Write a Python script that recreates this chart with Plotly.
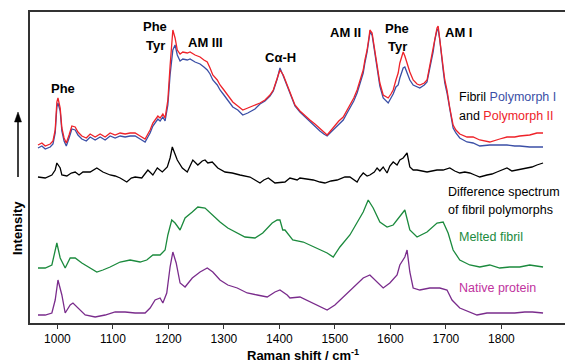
import plotly.graph_objects as go

# ---------------- data ----------------
# Raman shift (cm-1) sampled for the two fibril polymorph spectra
wn_fibril = [965, 972, 978, 987, 992, 996, 999, 1001, 1005, 1008, 1012, 1016, 1021, 1026, 1032, 1037,
             1044, 1052, 1059, 1068, 1077, 1086, 1095, 1104, 1113, 1122, 1131, 1140, 1149, 1158, 1163,
             1167, 1172, 1176, 1181, 1185, 1190, 1194, 1199, 1203, 1207, 1208, 1212, 1216, 1221, 1226,
             1234, 1239, 1248, 1257, 1264, 1270, 1275, 1280, 1288, 1293, 1300, 1306, 1311, 1316, 1325,
             1334, 1343, 1356, 1365, 1374, 1383, 1389, 1396, 1401, 1407, 1414, 1419, 1428, 1437, 1446,
             1455, 1464, 1473, 1480, 1486, 1493, 1500, 1507, 1515, 1522, 1527, 1534, 1540, 1545, 1551,
             1554, 1558, 1562, 1563, 1567, 1569, 1572, 1576, 1581, 1587, 1592, 1596, 1601, 1605, 1610,
             1614, 1617, 1621, 1623, 1626, 1630, 1635, 1641, 1648, 1653, 1661, 1666, 1671, 1677, 1680,
             1684, 1686, 1689, 1695, 1698, 1702, 1707, 1713, 1718, 1725, 1738, 1749, 1761, 1779, 1797,
             1810, 1824, 1833, 1851, 1864, 1875]

polymorph_II = [178, 180, 177, 179, 182, 193, 221, 225, 215, 195, 185, 180, 188, 197, 196, 191,
                187, 185, 189, 186, 189, 186, 190, 188, 190, 189, 190, 190, 187, 184, 189,
                193, 200, 203, 207, 205, 209, 205, 223, 257, 285, 293, 285, 273, 269, 271,
                270, 271, 268, 266, 263, 261, 255, 248, 243, 238, 233, 228, 225, 221, 217,
                213, 215, 218, 220, 223, 228, 233, 245, 253, 248, 238, 230, 218, 212, 207,
                203, 199, 195, 191, 188, 193, 198, 202, 206, 213, 218, 225, 233, 243, 253,
                263, 273, 288, 293, 290, 283, 271, 260, 240, 228, 226, 225, 229, 233, 243,
                250, 260, 267, 271, 267, 260, 251, 243, 239, 238, 240, 243, 257, 273, 285,
                295, 297, 285, 256, 243, 233, 215, 198, 193, 189, 186, 186, 183, 181, 184,
                186, 186, 187, 188, 190, 190]

polymorph_I = [175, 177, 174, 176, 179, 190, 216, 220, 212, 192, 182, 177, 185, 194, 193, 188,
               184, 182, 186, 183, 186, 183, 187, 185, 187, 186, 187, 187, 184, 181, 186,
               190, 197, 200, 204, 202, 206, 202, 218, 248, 268, 273, 278, 268, 262, 264,
               263, 264, 261, 259, 256, 253, 249, 243, 238, 233, 228, 223, 220, 216, 213,
               208, 210, 214, 219, 222, 227, 232, 244, 255, 247, 237, 229, 217, 211, 206,
               202, 197, 192, 189, 187, 191, 195, 199, 203, 210, 215, 222, 230, 240, 250,
               260, 271, 286, 291, 288, 281, 268, 257, 237, 225, 222, 220, 225, 229, 236,
               238, 245, 252, 255, 256, 251, 243, 238, 236, 235, 238, 241, 255, 271, 283,
               293, 294, 283, 253, 240, 230, 212, 195, 190, 185, 181, 180, 177, 178, 178,
               178, 177, 177, 176, 176, 176]

wn_diff = [965, 978, 990, 996, 999, 1005, 1008, 1017, 1025, 1032, 1039, 1046, 1059, 1071, 1082, 1095,
           1104, 1113, 1125, 1133, 1140, 1152, 1163, 1172, 1180, 1189, 1198, 1203, 1207, 1210, 1216,
           1225, 1234, 1239, 1244, 1253, 1261, 1266, 1271, 1279, 1289, 1302, 1315, 1329, 1347, 1356,
           1365, 1372, 1380, 1392, 1410, 1419, 1432, 1437, 1450, 1461, 1473, 1482, 1493, 1504, 1518,
           1527, 1540, 1545, 1551, 1558, 1563, 1571, 1576, 1581, 1587, 1594, 1599, 1605, 1612, 1617,
           1623, 1630, 1635, 1641, 1648, 1657, 1666, 1675, 1684, 1695, 1707, 1716, 1725, 1734, 1743,
           1752, 1761, 1774, 1783, 1792, 1801, 1810, 1819, 1828, 1837, 1846, 1855, 1864, 1875]
difference = [146, 145, 148, 153, 160, 155, 148, 147, 150, 151, 148, 151, 151, 155, 151, 148,
              147, 145, 141, 145, 146, 145, 153, 148, 155, 151, 156, 165, 176, 171, 163,
              155, 151, 157, 163, 158, 162, 163, 160, 161, 155, 151, 150, 148, 146, 143,
              140, 143, 145, 140, 141, 145, 143, 145, 144, 143, 141, 140, 142, 143, 146,
              146, 141, 146, 150, 147, 148, 151, 155, 152, 156, 150, 157, 161, 158, 163,
              165, 170, 156, 153, 153, 152, 151, 152, 153, 153, 155, 152, 150, 151, 150,
              148, 146, 148, 149, 151, 153, 155, 152, 153, 154, 155, 156, 158, 160]

wn_melted = [965, 978, 990, 996, 999, 1005, 1014, 1023, 1032, 1044, 1059, 1071, 1082, 1095, 1113, 1131,
             1149, 1161, 1172, 1185, 1194, 1199, 1206, 1212, 1221, 1230, 1243, 1253, 1266, 1279, 1293,
             1307, 1324, 1338, 1356, 1370, 1387, 1396, 1401, 1406, 1410, 1424, 1443, 1464, 1486, 1497,
             1509, 1527, 1540, 1551, 1560, 1569, 1581, 1594, 1605, 1617, 1626, 1635, 1648, 1666, 1684,
             1695, 1704, 1713, 1725, 1743, 1761, 1779, 1797, 1815, 1833, 1851, 1875]
melted_fibril = [55, 55, 58, 73, 80, 65, 55, 65, 65, 60, 55, 51, 53, 56, 61, 63,
                 61, 63, 68, 68, 73, 88, 103, 100, 93, 105, 111, 116, 115, 108, 101,
                 95, 90, 86, 85, 90, 100, 103, 103, 93, 93, 83, 81, 76, 70, 66,
                 76, 88, 100, 111, 123, 115, 101, 96, 98, 106, 113, 93, 86, 91, 100,
                 101, 90, 73, 63, 58, 56, 58, 55, 56, 56, 58, 56]

wn_native = [965, 978, 990, 996, 1001, 1008, 1014, 1023, 1028, 1037, 1050, 1068, 1086, 1104, 1122, 1140,
             1158, 1167, 1176, 1185, 1190, 1197, 1203, 1208, 1214, 1221, 1230, 1243, 1257, 1270, 1280,
             1293, 1307, 1324, 1342, 1360, 1378, 1392, 1401, 1414, 1419, 1437, 1455, 1473, 1486, 1500,
             1515, 1533, 1551, 1563, 1576, 1587, 1599, 1612, 1617, 1626, 1630, 1635, 1641, 1653, 1671,
             1689, 1702, 1711, 1725, 1743, 1756, 1774, 1797, 1824, 1842, 1856, 1875]
native_protein = [8, 8, 10, 23, 43, 28, 10, 18, 20, 15, 8, 6, 8, 11, 11, 10,
                  10, 15, 23, 25, 20, 30, 56, 71, 60, 40, 36, 45, 51, 55, 51,
                  43, 38, 35, 30, 28, 26, 31, 33, 28, 25, 26, 21, 16, 13, 18,
                  26, 35, 45, 48, 41, 35, 40, 48, 58, 66, 73, 51, 35, 33, 35,
                  35, 33, 23, 15, 11, 8, 10, 10, 10, 11, 11, 10]

x_ticks = [1000, 1100, 1200, 1300, 1400, 1500, 1600, 1700, 1800]

# ---------------- styling ----------------
BLUE = "#3b4fa6"
RED = "#ee2229"
GREEN = "#1b8a3d"
PURPLE = "#7a2c8c"
MAGENTA = "#c0329e"
FONT = "Liberation Sans"

# the page body has an 8 px default margin: compensate so positions match the window
OFF = 8
W, H = 573 - OFF, 363 - OFF
L, R, T, B = 30 - OFF, 5, 12 - OFF, 40
PW, PH = W - L - R, H - T - B


def px(x):
    # window pixel -> paper coordinate
    return (x - OFF - L) / PW


def py(y):
    return (H - B - (y - OFF)) / PH


fig = go.Figure()
lw = 1.3
fig.add_trace(go.Scatter(x=wn_native, y=native_protein, mode="lines", line=dict(color=PURPLE, width=lw)))
fig.add_trace(go.Scatter(x=wn_melted, y=melted_fibril, mode="lines", line=dict(color=GREEN, width=lw)))
fig.add_trace(go.Scatter(x=wn_diff, y=difference, mode="lines", line=dict(color="black", width=lw)))
fig.add_trace(go.Scatter(x=wn_fibril, y=polymorph_I, mode="lines", line=dict(color=BLUE, width=lw)))
fig.add_trace(go.Scatter(x=wn_fibril, y=polymorph_II, mode="lines", line=dict(color=RED, width=lw)))

ann = []


def bold(text, x, y):
    ann.append(dict(text="<b>%s</b>" % text, x=px(x), y=py(y), xref="paper", yref="paper",
                    showarrow=False, xanchor="center", yanchor="middle",
                    font=dict(family=FONT, size=13, color="black")))


def label(text, x, y):
    ann.append(dict(text=text, x=px(x), y=py(y), xref="paper", yref="paper",
                    showarrow=False, xanchor="left", yanchor="middle",
                    font=dict(family=FONT, size=12.5, color="black")))


bold("Phe", 63, 89)
bold("Phe", 155, 27)
bold("Tyr", 155, 45)
bold("AM III", 205, 42)
bold("Cα-H", 280, 57)
bold("AM II", 345, 32)
bold("Phe", 397, 28)
bold("Tyr", 397, 47)
bold("AM I", 458, 32)

label("Fibril <span style='color:%s'>Polymorph I</span>" % BLUE, 457, 97)
label("and <span style='color:%s'>Polymorph II</span>" % RED, 457, 116)
label("Difference spectrum", 446, 192)
label("of fibril polymorphs", 446, 210)
label("<span style='color:%s'>Melted fibril</span>" % GREEN, 457, 237)
label("<span style='color:%s'>Native protein</span>" % MAGENTA, 457, 288)

# y-axis title
ann.append(dict(text="<b>Intensity</b>", x=px(18), y=py(228), xref="paper", yref="paper",
                showarrow=False, textangle=-90, xanchor="center", yanchor="middle",
                font=dict(family=FONT, size=13, color="black")))
# x-axis title
ann.append(dict(text="<b>Raman shift / cm<sup>-1</sup></b>", x=px(303), y=py(355), xref="paper",
                yref="paper", showarrow=False, xanchor="center", yanchor="middle",
                font=dict(family=FONT, size=13, color="black")))

# arrow above "Intensity"
shapes = [
    dict(type="line", xref="paper", yref="paper", x0=px(18), x1=px(18), y0=py(177), y1=py(120),
         line=dict(color="black", width=1.5)),
    dict(type="path", xref="paper", yref="paper",
         path="M %f %f L %f %f L %f %f Z" % (px(14.5), py(122), px(21.5), py(122), px(18), py(112)),
         fillcolor="black", line=dict(color="black", width=0.5)),
]

fig.update_layout(
    width=W, height=H,
    margin=dict(l=L, r=R, t=T, b=B, autoexpand=False),
    paper_bgcolor="white", plot_bgcolor="white",
    showlegend=False,
    annotations=ann,
    shapes=shapes,
    font=dict(family=FONT, color="black"),
)
fig.update_xaxes(range=[950.6, 1920], tickvals=x_ticks, ticks="outside", ticklen=4,
                 tickwidth=1.2, tickcolor="#333", showline=True, linecolor="#333", linewidth=1.5,
                 mirror=True, showgrid=False, zeroline=False, automargin=False,
                 tickfont=dict(family=FONT, size=12, color="black"))
fig.update_yaxes(range=[0, 311], showticklabels=False, ticks="", showline=True, linecolor="#333",
                 linewidth=1.5, mirror=True, showgrid=False, zeroline=False, automargin=False)

fig.write_html("out.html")
